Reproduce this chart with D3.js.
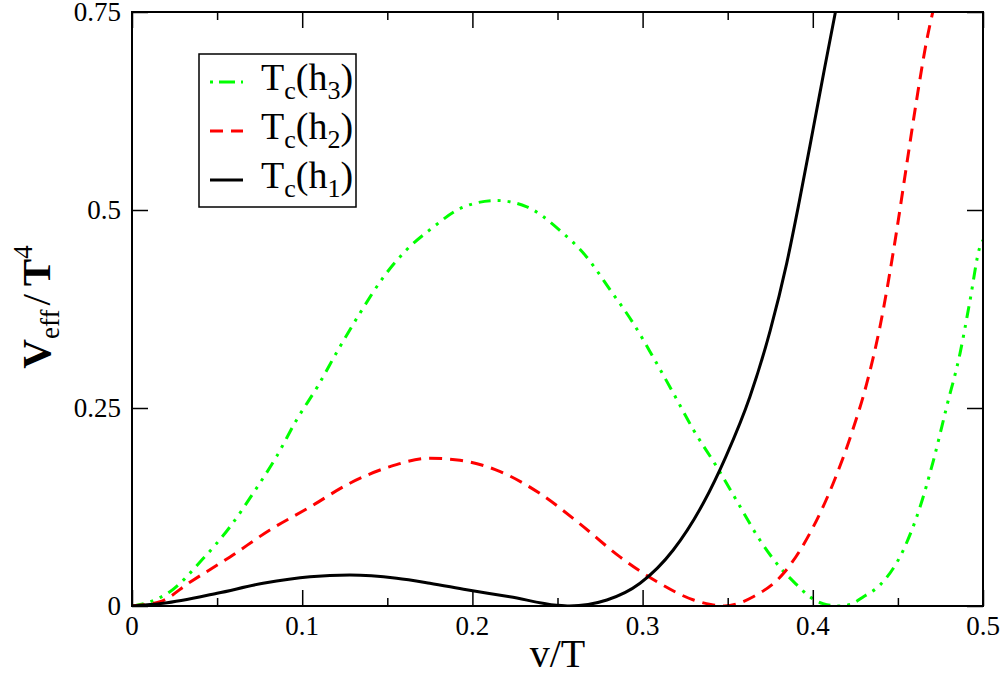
<!DOCTYPE html>
<html>
<head>
<meta charset="utf-8">
<script src="https://cdn.jsdelivr.net/npm/d3@7"></script>
<style>
  body { margin: 0; background: #fff; }
</style>
</head>
<body>
<div id="chart"></div>
<script>
// ── Data (v/T, V_eff/T^4) ──
var H3_V = [0, 0.0106, 0.0223, 0.041, 0.0576, 0.0723, 0.085, 0.0967, 0.109, 0.121, 0.134, 0.148, 0.161, 0.175, 0.195,
  0.214, 0.232, 0.251, 0.267, 0.281, 0.2945, 0.306, 0.318, 0.330, 0.3435, 0.355, 0.369, 0.381, 0.3905, 0.398, 0.406,
  0.415, 0.422, 0.430, 0.4395, 0.4532, 0.463, 0.4709, 0.4787, 0.4865, 0.4924, 0.498, 0.5];
var H3_VEFF = [0, 0.0054, 0.018, 0.058, 0.100, 0.146, 0.189, 0.235, 0.277, 0.323, 0.370, 0.416, 0.449, 0.475, 0.504,
  0.512, 0.504, 0.475, 0.441, 0.399, 0.357, 0.315, 0.269, 0.222, 0.176, 0.134, 0.083, 0.048, 0.027, 0.012, 0.003,
  0, 0.002, 0.012, 0.0265, 0.0707, 0.125, 0.184, 0.252, 0.319, 0.386, 0.452, 0.462];

var H2_V = [0, 0.0165, 0.034, 0.0576, 0.081, 0.1046, 0.128, 0.1516, 0.175, 0.1927, 0.216, 0.2397, 0.263, 0.2867, 0.310,
  0.330, 0.340, 0.348, 0.365, 0.3827, 0.4003, 0.412, 0.4228, 0.4317, 0.4395, 0.449, 0.455, 0.461, 0.467, 0.4705];
var H2_VEFF = [0, 0.0054, 0.030, 0.062, 0.096, 0.125, 0.155, 0.176, 0.1865, 0.184, 0.170, 0.142, 0.104, 0.062, 0.0287,
  0.0076, 0.002, 0, 0.0117, 0.041, 0.100, 0.155, 0.218, 0.281, 0.353, 0.470, 0.555, 0.639, 0.715, 0.75];

var H1_V = [0, 0.0184, 0.050, 0.077, 0.1046, 0.128, 0.1555, 0.175, 0.1966, 0.222, 0.2495, 0.257, 0.279, 0.2985, 0.318,
  0.3357, 0.349, 0.363, 0.375, 0.3847, 0.392, 0.400, 0.407, 0.4133];
var H1_VEFF = [0, 0.0034, 0.016, 0.0287, 0.037, 0.039, 0.035, 0.0287, 0.0205, 0.0117, 0.001, 0, 0.0076, 0.0287, 0.0707,
  0.130, 0.189, 0.264, 0.348, 0.433, 0.51, 0.60, 0.68, 0.75];

var SERIES_NAMES = ['3', '2', '1'];
var X_TICKS = [0, 0.1, 0.2, 0.3, 0.4, 0.5];
var X_TICK_LABELS = ['0', '0.1', '0.2', '0.3', '0.4', '0.5'];
var X_MINOR = [0.05, 0.15, 0.25, 0.35, 0.45];
var Y_TICKS = [0, 0.25, 0.5, 0.75];
var Y_TICK_LABELS = ['0', '0.25', '0.5', '0.75'];

// ── Layout ──
var WIDTH = 1002, HEIGHT = 675;
var MARGIN = { top: 12, right: 19, bottom: 69, left: 132 };
var FONT = 'Liberation Serif';
var MAJOR = 16, MINOR = 8;

var innerW = WIDTH - MARGIN.left - MARGIN.right;
var innerH = HEIGHT - MARGIN.top - MARGIN.bottom;

var svg = d3.select('#chart').append('svg')
  .attr('width', WIDTH)
  .attr('height', HEIGHT)
  .attr('font-family', FONT);

var g = svg.append('g')
  .attr('transform', 'translate(' + MARGIN.left + ',' + MARGIN.top + ')');

var x = d3.scaleLinear().domain([0, 0.5]).range([0, innerW]);
var y = d3.scaleLinear().domain([0, 0.75]).range([innerH, 0]);

svg.append('defs').append('clipPath').attr('id', 'plot-clip')
  .append('rect').attr('width', innerW).attr('height', innerH);

// ── Curves ──
function pairs(xs, ys) {
  return xs.map(function (v, i) { return [v, ys[i]]; });
}

var line = d3.line()
  .x(function (d) { return x(d[0]); })
  .y(function (d) { return y(d[1]); })
  .curve(d3.curveMonotoneX);

var series = [
  { data: pairs(H3_V, H3_VEFF), color: '#00ff00', dash: '12,7,3,7,3,7' },
  { data: pairs(H2_V, H2_VEFF), color: '#ff0000', dash: '13,8' },
  { data: pairs(H1_V, H1_VEFF), color: '#000000', dash: null }
];

var curveGroup = g.append('g').attr('clip-path', 'url(#plot-clip)');
curveGroup.selectAll('path')
  .data(series)
  .join('path')
  .attr('d', function (d) { return line(d.data); })
  .attr('fill', 'none')
  .attr('stroke', function (d) { return d.color; })
  .attr('stroke-width', 3)
  .attr('stroke-dasharray', function (d) { return d.dash; });

// ── Axes: inward ticks from d3.axis, labels drawn as plain text ──
function styleAxis(sel) {
  sel.select('.domain').remove();
  sel.selectAll('text').remove();
  sel.selectAll('line').attr('stroke', '#000').attr('stroke-width', 1.5);
}

g.append('g')
  .attr('transform', 'translate(0,' + innerH + ')')
  .call(d3.axisBottom(x).tickValues(X_TICKS).tickSizeInner(-MAJOR).tickSizeOuter(0))
  .call(styleAxis);
g.append('g')
  .attr('transform', 'translate(0,' + innerH + ')')
  .call(d3.axisBottom(x).tickValues(X_MINOR).tickSizeInner(-MINOR).tickSizeOuter(0))
  .call(styleAxis);
g.append('g')
  .call(d3.axisTop(x).tickValues(X_TICKS).tickSizeInner(-MAJOR).tickSizeOuter(0))
  .call(styleAxis);
g.append('g')
  .call(d3.axisTop(x).tickValues(X_MINOR).tickSizeInner(-MINOR).tickSizeOuter(0))
  .call(styleAxis);
g.append('g')
  .call(d3.axisLeft(y).tickValues(Y_TICKS).tickSizeInner(-MAJOR).tickSizeOuter(0))
  .call(styleAxis);
g.append('g')
  .attr('transform', 'translate(' + innerW + ',0)')
  .call(d3.axisRight(y).tickValues(Y_TICKS).tickSizeInner(-MAJOR).tickSizeOuter(0))
  .call(styleAxis);

g.selectAll('.x-label')
  .data(X_TICKS)
  .join('text')
  .attr('class', 'x-label')
  .attr('x', function (d) { return x(d); })
  .attr('y', innerH + 29)
  .attr('text-anchor', 'middle')
  .attr('font-family', FONT)
  .attr('font-size', 27)
  .text(function (d, i) { return X_TICK_LABELS[i]; });

g.selectAll('.y-label')
  .data(Y_TICKS)
  .join('text')
  .attr('class', 'y-label')
  .attr('x', -11)
  .attr('y', function (d) { return y(d) + 9; })
  .attr('text-anchor', 'end')
  .attr('font-family', FONT)
  .attr('font-size', 27)
  .text(function (d, i) { return Y_TICK_LABELS[i]; });

// frame
g.append('rect')
  .attr('width', innerW)
  .attr('height', innerH)
  .attr('fill', 'none')
  .attr('stroke', '#000')
  .attr('stroke-width', 2);

// ── Axis titles ──
svg.append('text')
  .attr('x', MARGIN.left + innerW / 2)
  .attr('y', 667)
  .attr('text-anchor', 'middle')
  .attr('font-size', 40)
  .text('v/T');

var yTitle = svg.append('text')
  .attr('transform', 'translate(50,' + (MARGIN.top + innerH / 2 - 2) + ') rotate(-90)')
  .attr('text-anchor', 'middle')
  .attr('font-size', 41);
yTitle.append('tspan').attr('font-weight', 'bold').text('V');
yTitle.append('tspan').attr('font-size', 27).attr('dy', 9).text('eff');
yTitle.append('tspan').attr('dy', -9).attr('dx', 4).text('/');
yTitle.append('tspan').attr('font-weight', 'bold').attr('dx', 8).text('T');
yTitle.append('tspan').attr('font-size', 27).attr('dy', -18).text('4');

// ── Legend ──
var legend = svg.append('g').attr('transform', 'translate(199,54)');
legend.append('rect')
  .attr('width', 157)
  .attr('height', 153)
  .attr('fill', '#fff')
  .attr('stroke', '#000')
  .attr('stroke-width', 1.5);

var rows = legend.selectAll('.legend-row')
  .data(series)
  .join('g')
  .attr('class', 'legend-row')
  .attr('transform', function (d, i) { return 'translate(0,' + (28 + i * 49) + ')'; });

rows.append('line')
  .attr('x1', 11).attr('x2', 44)
  .attr('stroke', function (d) { return d.color; })
  .attr('stroke-width', 3)
  .attr('stroke-dasharray', function (d, i) { return i === 0 ? '3,6,16,6,3' : d.dash; });

var labels = rows.append('text')
  .attr('x', 62)
  .attr('y', 8)
  .attr('font-size', 38);
labels.append('tspan').text('T');
labels.append('tspan').attr('font-size', 26).attr('dy', 9).text('c');
labels.append('tspan').attr('dy', -9).text('(h');
labels.append('tspan').attr('font-size', 26).attr('dy', 9).text(function (d, i) { return SERIES_NAMES[i]; });
labels.append('tspan').attr('dy', -9).text(')');
</script>
</body>
</html>
